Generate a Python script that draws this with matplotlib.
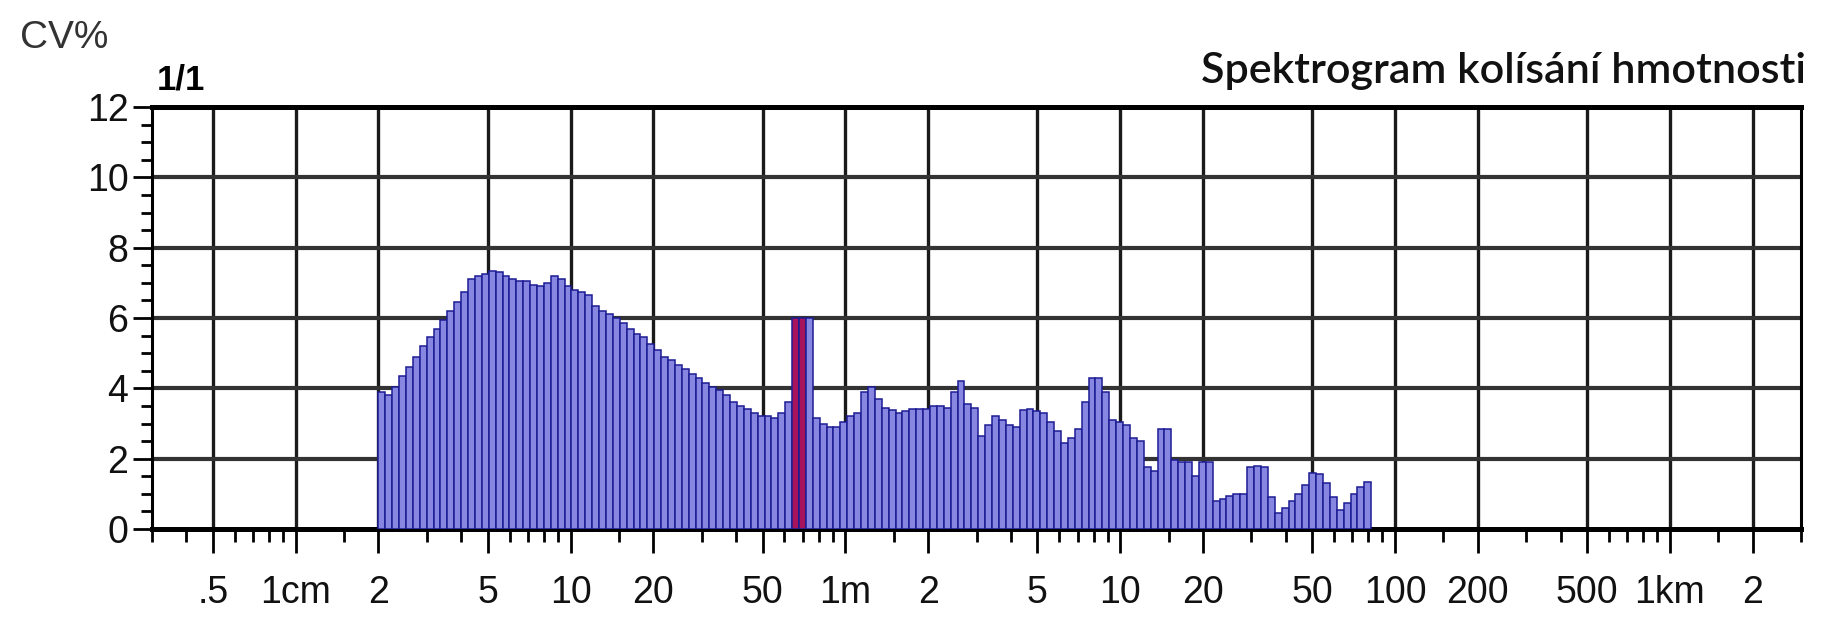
import matplotlib
matplotlib.use('Agg')
import matplotlib.pyplot as plt
from matplotlib.ticker import FixedLocator, NullFormatter
import numpy as np


# spectrogram channels: 12 per octave, starting at 2 cm (x unit = cm)
START_CM = 2.0
PER_OCTAVE = 12

CV = [
    3.9, 3.8, 4.05, 4.35, 4.6, 4.9, 5.2, 5.45, 5.7, 5.95, 6.2, 6.45,
    6.75, 7.1, 7.2, 7.25, 7.35, 7.3, 7.2, 7.1, 7.05, 7.05, 6.95, 6.9,
    7.0, 7.2, 7.1, 6.9, 6.8, 6.75, 6.65, 6.35, 6.2, 6.1, 6.0, 5.85,
    5.7, 5.55, 5.45, 5.25, 5.1, 4.9, 4.8, 4.65, 4.55, 4.4, 4.3, 4.15,
    4.05, 3.95, 3.8, 3.6, 3.5, 3.4, 3.3, 3.2, 3.2, 3.15, 3.3, 3.6,
    6.0, 6.0, 6.0, 3.15, 3.0, 2.9, 2.9, 3.05, 3.2, 3.3, 3.9, 4.05,
    3.7, 3.45, 3.38, 3.3, 3.35, 3.4, 3.4, 3.42, 3.5, 3.5, 3.45, 3.9,
    4.2, 3.55, 3.45, 2.65, 2.95, 3.2, 3.1, 2.95, 2.9, 3.38, 3.4, 3.35,
    3.3, 3.05, 2.8, 2.45, 2.6, 2.85, 3.6, 4.3, 4.3, 3.9, 3.1, 3.05,
    2.95, 2.6, 2.5, 1.75, 1.65, 2.85, 2.85, 1.95, 1.9, 1.9, 1.5, 1.9,
    1.9, 0.8, 0.85, 0.95, 1.0, 1.0, 1.75, 1.8, 1.75, 0.9, 0.45, 0.6,
    0.8, 1.0, 1.25, 1.6, 1.55, 1.3, 0.9, 0.55, 0.75, 1.0, 1.2, 1.35,
]
RED_CHANNELS = [60, 61]

X_MAJOR = [0.5, 1, 2, 5, 10, 20, 50, 100, 200, 500, 1000, 2000, 5000,
           10000, 20000, 50000, 100000, 200000]
X_LABELS = ['.5', '1cm', '2', '5', '10', '20', '50', '1m', '2', '5', '10',
            '20', '50', '100', '200', '500', '1km', '2']
X_MINOR = [0.3, 0.4, 0.6, 0.7, 0.8, 0.9, 1.5, 3, 4, 6, 7, 8, 9, 15, 30, 40,
           60, 70, 80, 90, 150, 300, 400, 600, 700, 800, 900, 1500, 3000,
           4000, 6000, 7000, 8000, 9000, 15000, 30000, 40000, 60000, 70000,
           80000, 90000, 150000, 300000]

BLUE = '#8787e2'
EDGE = '#1c1c94'
RED = '#a8145c'

fig = plt.figure(figsize=(18.22, 6.17), dpi=100)
ax = fig.add_axes([152 / 1822, 88 / 617, (1801 - 152) / 1822, (529 - 107) / 617])

n = len(CV)
edges = START_CM * 2.0 ** (np.arange(n + 1) / PER_OCTAVE)
colors = [RED if i in RED_CHANNELS else BLUE for i in range(n)]
ax.bar(edges[:-1], CV, width=np.diff(edges), align='edge', color=colors,
       edgecolor=EDGE, linewidth=1.1, zorder=3)

ax.set_xscale('log')
ax.set_xlim(0.3, 300000)
ax.set_ylim(0, 12)

ax.set_xticks(X_MAJOR)
ax.set_xticklabels(X_LABELS)
ax.xaxis.set_minor_locator(FixedLocator(X_MINOR))
ax.xaxis.set_minor_formatter(NullFormatter())
ax.set_yticks(range(0, 13, 2))
ax.yaxis.set_minor_locator(FixedLocator(np.arange(0, 12.01, 0.5)))

for x in X_MAJOR:
    ax.axvline(x, color='#1a1a1a', lw=2.4, zorder=1)
for y in range(2, 12, 2):
    ax.axhline(y, color='#333333', lw=3.0, zorder=1)

for side in ['top', 'bottom']:
    ax.spines[side].set_linewidth(3.6)
for side in ['left', 'right']:
    ax.spines[side].set_linewidth(2.2)

ax.tick_params(axis='x', which='major', length=17, width=2.0, pad=16,
               labelsize=27)
ax.tick_params(axis='x', which='minor', length=9, width=2.0)
ax.tick_params(axis='y', which='major', length=14, width=2.0, pad=3,
               labelsize=27)
ax.tick_params(axis='y', which='minor', length=8, width=2.0)
for lab in ax.get_xticklabels() + ax.get_yticklabels():
    lab.set_fontfamily('Liberation Sans')
    lab.set_color('#111111')

fig.text(20 / 1822, 1 - 38 / 617, 'CV%', fontsize=28, family='Liberation Sans',
         color='#333333', ha='left', va='center')
fig.text(157 / 1822, 1 - 96 / 617, '1/1', fontsize=25, family='Liberation Sans',
         weight='bold', ha='left', va='bottom')
fig.text(1806 / 1822, 1 - 83 / 617, 'Spektrogram kolísání hmotnosti',
         fontsize=31, family='Lato', weight='semibold', ha='right',
         va='baseline', color='#111111')

fig.savefig('out.png', dpi=100)
